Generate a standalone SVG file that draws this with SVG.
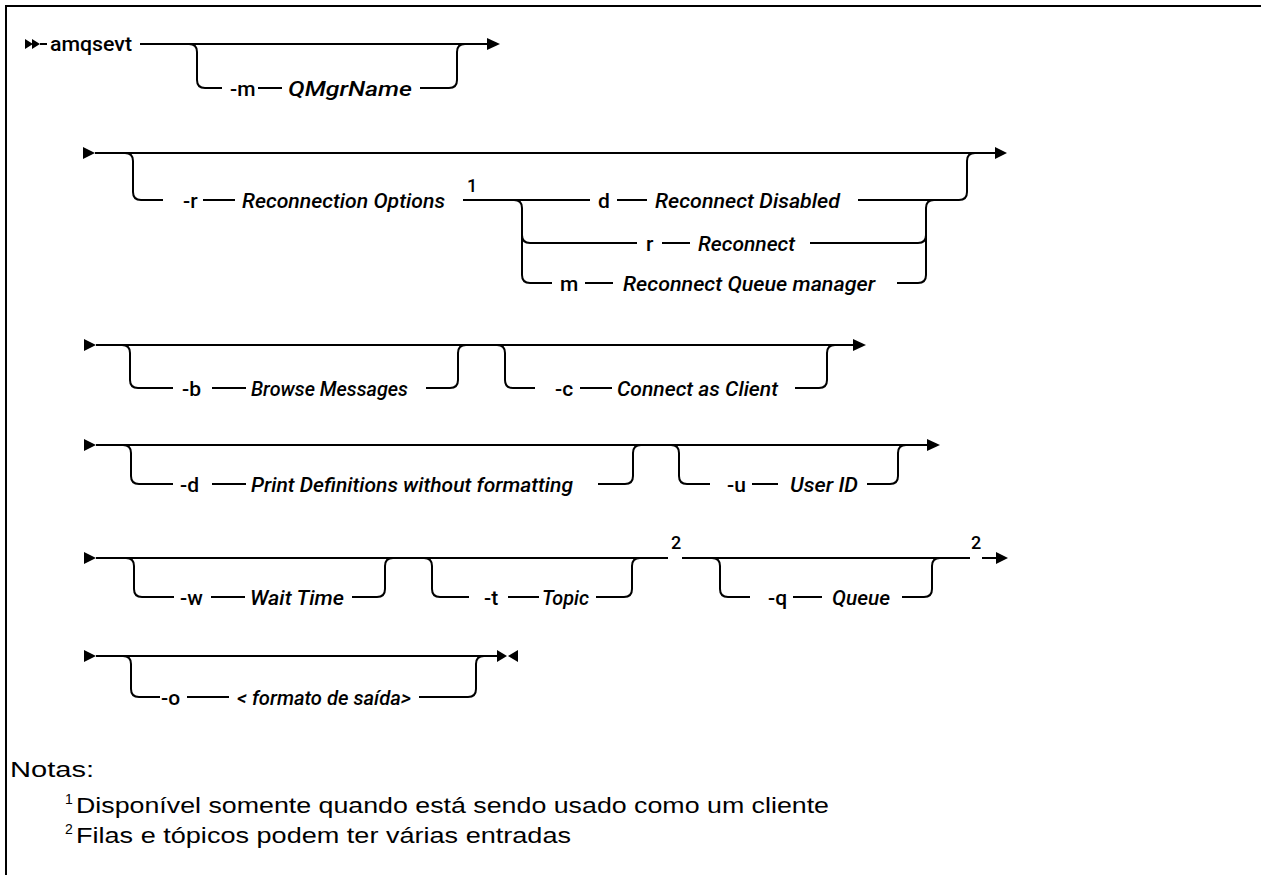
<svg xmlns="http://www.w3.org/2000/svg" width="1261" height="875" viewBox="0 0 1261 875">
<style>
.ln{fill:none;stroke:#000;stroke-width:2}
.ah{fill:#000;stroke:none}
.t{font-family:Roboto,"Liberation Sans",Arial,sans-serif;font-size:21px;font-weight:500;fill:#000}
.v{font-style:italic}
.sup{font-family:Roboto,"Liberation Sans",Arial,sans-serif;font-size:18px;font-weight:500;fill:#000}
.n{font-family:"Liberation Sans",Arial,sans-serif;font-size:22px;fill:#000}
.ns{font-family:"Liberation Sans",Arial,sans-serif;font-size:14px;fill:#000}
</style>
<rect x="0" y="0" width="1261" height="875" fill="#fff"/>
<path class="ln" d="M6 875 V6 H1261"/>

<g id="connectors">
  <!-- row 1 -->
  <path class="ah" d="M25 39 L33 44 L25 49 Z M32 39 L40 44 L32 49 Z"/>
  <path class="ln" d="M40 44 H47 M140 44 H488"/>
  <path class="ah" d="M487 38 L500 44 L487 50 Z"/>
  <path class="ln" d="M189 44 Q197 44 197 52 V80 Q197 88 205 88 H222 M258 88 H282 M420 88 H449 Q457 88 457 80 V52 Q457 44 465 44"/>
  <!-- row 2 -->
  <path class="ah" d="M83 147 L95 153 L83 159 Z"/>
  <path class="ln" d="M95 153 H996"/>
  <path class="ah" d="M995 147 L1007 153 L995 159 Z"/>
  <path class="ln" d="M125 153 Q133 153 133 161 V192 Q133 200 141 200 H163 M203 200 H235 M463 200 H590 M617 200 H647 M858 200 H959 Q967 200 967 192 V161 Q967 153 975 153"/>
  <path class="ln" d="M514 200 Q522 200 522 208 V275 Q522 283 530 283 H552 M522 235 Q522 243 530 243 H637 M662 243 H690 M585 283 H613"/>
  <path class="ln" d="M810 243 H918 Q926 243 926 235 M897 283 H918 Q926 283 926 275 V208 Q926 200 934 200"/>
  <!-- row 3 -->
  <path class="ah" d="M84 339 L96 345 L84 351 Z"/>
  <path class="ln" d="M96 345 H854"/>
  <path class="ah" d="M853 339 L866 345 L853 351 Z"/>
  <path class="ln" d="M122 345 Q130 345 130 353 V380 Q130 388 138 388 H173 M212 388 H246 M426 388 H450 Q458 388 458 380 V353 Q458 345 466 345"/>
  <path class="ln" d="M497 345 Q505 345 505 353 V380 Q505 388 513 388 H535 M580 388 H612 M795 388 H819 Q827 388 827 380 V353 Q827 345 835 345"/>
  <!-- row 4 -->
  <path class="ah" d="M84 439 L96 445 L84 451 Z"/>
  <path class="ln" d="M96 445 H928"/>
  <path class="ah" d="M927 439 L940 445 L927 451 Z"/>
  <path class="ln" d="M123 445 Q131 445 131 453 V476 Q131 484 139 484 H173 M212 484 H246 M598 484 H625 Q633 484 633 476 V453 Q633 445 641 445"/>
  <path class="ln" d="M671 445 Q679 445 679 453 V476 Q679 484 687 484 H710 M752 484 H778 M867 484 H890 Q898 484 898 476 V453 Q898 445 906 445"/>
  <!-- row 5 -->
  <path class="ah" d="M84 552 L96 558 L84 564 Z"/>
  <path class="ln" d="M96 558 H668 M682 558 H970 M982 558 H997"/>
  <path class="ah" d="M996 552 L1008 558 L996 564 Z"/>
  <path class="ln" d="M126 558 Q134 558 134 566 V589 Q134 597 142 597 H174 M211 597 H245 M352 597 H377 Q385 597 385 589 V566 Q385 558 393 558"/>
  <path class="ln" d="M424 558 Q432 558 432 566 V589 Q432 597 440 597 H469 M508 597 H539 M596 597 H624 Q632 597 632 589 V566 Q632 558 640 558"/>
  <path class="ln" d="M712 558 Q720 558 720 566 V589 Q720 597 728 597 H750 M793 597 H822 M902 597 H924 Q932 597 932 589 V566 Q932 558 940 558"/>
  <!-- row 6 -->
  <path class="ah" d="M84 650 L96 656 L84 662 Z"/>
  <path class="ln" d="M96 656 H498"/>
  <path class="ah" d="M497 650 L507 656 L497 662 Z M518 650 L508 656 L518 662 Z"/>
  <path class="ln" d="M123 656 Q131 656 131 664 V689 Q131 697 139 697 H160 M187 697 H229 M419 697 H468 Q476 697 476 689 V664 Q476 656 484 656"/>
</g>

<g id="n-amqsevt"><text class="t" x="50" y="51" textLength="82" lengthAdjust="spacingAndGlyphs">amqsevt</text></g>
<g id="n-m"><text class="t" x="230" y="95.5">-m</text><text class="t v" x="288" y="95.5" textLength="124" lengthAdjust="spacingAndGlyphs">QMgrName</text></g>

<g id="n-r"><text class="t" x="183" y="207.5">-r</text><text class="t v" x="242" y="207.5" textLength="203" lengthAdjust="spacingAndGlyphs">Reconnection Options</text><text class="sup" x="467" y="192">1</text></g>
<g id="n-rd"><text class="t" x="598" y="207.5">d</text><text class="t v" x="655" y="207.5" textLength="185" lengthAdjust="spacingAndGlyphs">Reconnect Disabled</text></g>
<g id="n-rr"><text class="t" x="646" y="250.5">r</text><text class="t v" x="698" y="250.5" textLength="97" lengthAdjust="spacingAndGlyphs">Reconnect</text></g>
<g id="n-rm"><text class="t" x="560" y="290.5">m</text><text class="t v" x="623" y="290.5" textLength="252" lengthAdjust="spacingAndGlyphs">Reconnect Queue manager</text></g>

<g id="n-b"><text class="t" x="182" y="395.5">-b</text><text class="t v" x="251" y="395.5" textLength="157" lengthAdjust="spacingAndGlyphs">Browse Messages</text></g>
<g id="n-c"><text class="t" x="555" y="395.5">-c</text><text class="t v" x="617" y="395.5" textLength="161" lengthAdjust="spacingAndGlyphs">Connect as Client</text></g>

<g id="n-d"><text class="t" x="180" y="491.5">-d</text><text class="t v" x="251" y="491.5" textLength="322" lengthAdjust="spacingAndGlyphs">Print Definitions without formatting</text></g>
<g id="n-u"><text class="t" x="727" y="491.5">-u</text><text class="t v" x="790" y="491.5" textLength="68" lengthAdjust="spacingAndGlyphs">User ID</text></g>

<g id="n-w"><text class="t" x="180" y="604.5">-w</text><text class="t v" x="250" y="604.5" textLength="94" lengthAdjust="spacingAndGlyphs">Wait Time</text></g>
<g id="n-t"><text class="t" x="484" y="604.5">-t</text><text class="t v" x="542" y="604.5" textLength="47" lengthAdjust="spacingAndGlyphs">Topic</text><text class="sup" x="671" y="549">2</text></g>
<g id="n-q"><text class="t" x="768" y="604.5">-q</text><text class="t v" x="832" y="604.5" textLength="58" lengthAdjust="spacingAndGlyphs">Queue</text><text class="sup" x="971" y="549">2</text></g>

<g id="n-o"><text class="t" x="161" y="704.5">-o</text><text class="t v" x="237" y="704.5" textLength="174" lengthAdjust="spacingAndGlyphs">&lt; formato de saída&gt;</text></g>

<g id="notes">
  <text class="n" x="10" y="777" textLength="84" lengthAdjust="spacingAndGlyphs">Notas:</text>
  <text class="ns" x="65" y="804">1</text>
  <text class="n" x="76" y="813" textLength="753" lengthAdjust="spacingAndGlyphs">Disponível somente quando está sendo usado como um cliente</text>
  <text class="ns" x="65" y="834">2</text>
  <text class="n" x="76" y="843" textLength="495" lengthAdjust="spacingAndGlyphs">Filas e tópicos podem ter várias entradas</text>
</g>
</svg>
